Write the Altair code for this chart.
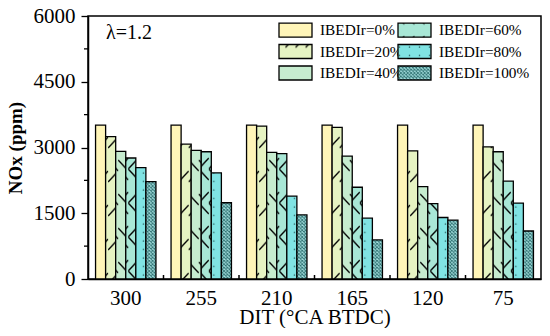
import altair as alt
import pandas as pd
import jinja2

dits = ["300", "255", "210", "165", "120", "75"]
series = ["IBEDIr=0%", "IBEDIr=20%", "IBEDIr=40%", "IBEDIr=60%", "IBEDIr=80%", "IBEDIr=100%"]
values = {
    "IBEDIr=0%":   [3510, 3510, 3510, 3510, 3510, 3510],
    "IBEDIr=20%":  [3248, 3075, 3488, 3458, 2925, 3015],
    "IBEDIr=40%":  [2910, 2933, 2888, 2805, 2108, 2903],
    "IBEDIr=60%":  [2760, 2903, 2858, 2093, 1718, 2235],
    "IBEDIr=80%":  [2543, 2423, 1890, 1388, 1403, 1733],
    "IBEDIr=100%": [2220, 1740, 1463, 893, 1343, 1095],
}
fills = ["#FFF5B8", "url(#p20)", "url(#p40)", "url(#p60)", "url(#p80)", "url(#p100)"]
y_ticks = [0, 1500, 3000, 4500, 6000]
y_minor = [750, 2250, 3750, 5250]

rows = []
for s in series:
    for d, v in zip(dits, values[s]):
        rows.append({"DIT": d, "series": s, "NOx": v})
df = pd.DataFrame(rows)

W, H = 453, 263
FONT = "Liberation Serif"
BW = W / 6 * 0.8 / 6  # bar width in px, for hatch tiles

xscale = alt.Scale(paddingInner=0.2, paddingOuter=0.1)
yscale = alt.Scale(domain=[0, 6000], nice=False)

bars = alt.Chart(df).mark_bar(stroke="black", strokeWidth=1.3).encode(
    x=alt.X("DIT:N", sort=dits, scale=xscale,
            axis=alt.Axis(title="DIT (°CA BTDC)", labelAngle=0, ticks=False, tickSize=0,
                          labelPadding=8, titlePadding=-2, labelFontSize=21, titleFontSize=21,
                          titleFontWeight="normal", domainColor="black", domainWidth=1.5,
                          labelColor="black", titleColor="black", labelFont=FONT, titleFont=FONT)),
    xOffset=alt.XOffset("series:N", sort=series, scale=alt.Scale(paddingInner=0, paddingOuter=0)),
    y=alt.Y("NOx:Q", scale=yscale,
            axis=alt.Axis(title="NOx (ppm)", values=y_ticks, format="d", grid=False, tickSize=7,
                          tickWidth=1.3, tickColor="black", labelPadding=6, titlePadding=8,
                          labelFontSize=21, titleFontSize=19, titleFontWeight="bold",
                          domainColor="black", domainWidth=1.5, labelColor="black",
                          titleColor="black", labelFont=FONT, titleFont=FONT)),
    color=alt.Color("series:N", scale=alt.Scale(domain=series, range=fills),
                    legend=alt.Legend(title=None, orient="none", legendX=196.5, legendY=3,
                                      columns=2, columnPadding=-29, rowPadding=0.5,
                                      symbolType="M-1.65,-0.7H1.65V0.7H-1.65Z", symbolSize=400,
                                      symbolStrokeColor="black", symbolStrokeWidth=1.3,
                                      labelOffset=13.5, labelFontSize=15.3, labelFont=FONT,
                                      labelColor="black", padding=0)),
)

minor_y = alt.Chart(pd.DataFrame({"v": y_minor})).mark_rule(color="black", strokeWidth=1.3).encode(
    y=alt.Y("v:Q", scale=yscale, title="NOx (ppm)"),
    x=alt.value(-4), x2=alt.value(0),
)

minor_x = alt.Chart(pd.DataFrame({"DIT": dits[1:]})).mark_rule(
    color="black", strokeWidth=1.5, xOffset=-W / 12).encode(
    x=alt.X("DIT:N", sort=dits, scale=xscale, title="DIT (°CA BTDC)"),
    y=alt.value(H), y2=alt.value(H - 4),
)

label = alt.Chart(pd.DataFrame({"t": ["λ=1.2"]})).mark_text(
    font=FONT, fontSize=20, align="left", baseline="middle", color="black").encode(
    text="t:N", x=alt.value(18), y=alt.value(17),
)

chart = alt.layer(bars, minor_y, minor_x, label).properties(
    width=W, height=H,
    autosize=alt.AutoSizeParams(type="none"),
    padding={"left": 80, "top": 8, "right": 1, "bottom": 49},
).configure_view(stroke="black", strokeWidth=1.5)

bw = round(BW, 3)
PATTERNS = f"""
<svg width="0" height="0" style="position:absolute;left:0;top:0">
  <defs>
    <pattern id="p20" patternUnits="userSpaceOnUse" width="{bw}" height="34">
      <rect width="{bw}" height="34" fill="#E6F3C2"/>
      <line x1="0" y1="30" x2="{bw}" y2="19" stroke="black" stroke-width="1.3"/>
    </pattern>
    <pattern id="p40" patternUnits="userSpaceOnUse" width="{bw}" height="34">
      <rect width="{bw}" height="34" fill="#C6ECCF"/>
      <line x1="0" y1="8" x2="{bw}" y2="19" stroke="black" stroke-width="1.3"/>
    </pattern>
    <pattern id="p60" patternUnits="userSpaceOnUse" width="{bw}" height="34">
      <rect width="{bw}" height="34" fill="#A8E7D6"/>
      <polyline points="{bw},6 0,17 {bw},28" fill="none" stroke="black" stroke-width="1.3"/>
    </pattern>
    <pattern id="p80" patternUnits="userSpaceOnUse" width="{bw}" height="8.5">
      <rect width="{bw}" height="8.5" fill="#80E3E3"/>
      <circle cx="{bw / 2}" cy="4" r="0.75" fill="#1F4F4F"/>
    </pattern>
    <pattern id="p100" patternUnits="userSpaceOnUse" width="3.4" height="3.4">
      <rect width="3.4" height="3.4" fill="#A9E3E3"/>
      <path d="M0,0L3.4,3.4M3.4,0L0,3.4" stroke="#2F7272" stroke-width="0.9"/>
    </pattern>
  </defs>
</svg>
"""

TEMPLATE = jinja2.Template("""<!DOCTYPE html>
<html>
<head>
  <style>
    #{{ output_div }}.vega-embed {
      width: 100%;
      display: flex;
    }
    #{{ output_div }}.vega-embed details,
    #{{ output_div }}.vega-embed details summary {
      position: relative;
    }
  </style>
  <script type="text/javascript" src="{{ base_url }}/vega@{{ vega_version }}"></script>
  <script type="text/javascript" src="{{ base_url }}/vega-lite@{{ vegalite_version }}"></script>
  <script type="text/javascript" src="{{ base_url }}/vega-embed@{{ vegaembed_version }}"></script>
</head>
<body>
""" + PATTERNS + """
<div id="{{ output_div }}"></div>
<script>
  (function(vegaEmbed) {
    var spec = {{ spec }};
    var embedOpt = {{ embed_options }};
    embedOpt.mode = embedOpt.mode || "{{ mode }}";
    function showError(el, error){
        el.innerHTML = ('<div style="color:red;"><p>JavaScript Error: ' + error.message + '</p></div>');
        throw error;
    }
    const el = document.getElementById('{{ output_div }}');
    vegaEmbed("#{{ output_div }}", spec, embedOpt)
      .catch(error => showError(el, error));
  })(vegaEmbed);
</script>
</body>
</html>
""")

chart.save("out.html", embed_options={"renderer": "svg", "actions": False}, template=TEMPLATE)
